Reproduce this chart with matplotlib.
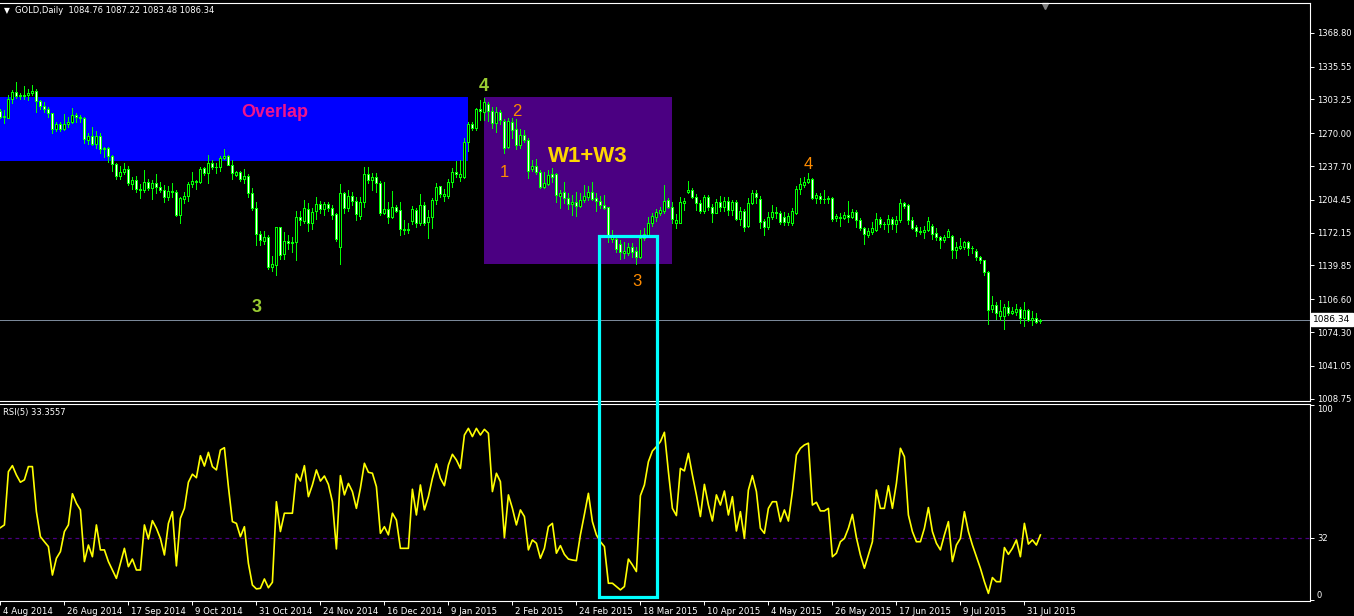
import matplotlib
matplotlib.use("Agg")
import matplotlib.pyplot as plt
import matplotlib.transforms as mtransforms
from matplotlib.patches import Rectangle
import numpy as np

# ---------------- data (GOLD, Daily) ----------------
opens = [
1291.9, 1286.3, 1285.3, 1303.4, 1310.3, 1307.0, 1306.8, 1307.3, 1309.9, 1311.3,
1302.1, 1296.5, 1293.5, 1289.6, 1274.5, 1279.1, 1274.5, 1279.1, 1281.4, 1287.6,
1285.7, 1285.4, 1263.4, 1267.0, 1259.4, 1267.3, 1254.2, 1255.8, 1247.6, 1239.4,
1227.9, 1231.9, 1234.8, 1220.4, 1224.0, 1214.8, 1214.2, 1222.0, 1215.8, 1221.4,
1216.8, 1214.2, 1206.9, 1213.5, 1212.2, 1189.6, 1205.6, 1208.3, 1220.1, 1222.7,
1222.0, 1235.5, 1231.2, 1240.4, 1237.1, 1237.1, 1245.3, 1247.6, 1239.0, 1229.2,
1231.8, 1225.3, 1227.9, 1210.8, 1196.7, 1171.1, 1164.3, 1167.5, 1138.7, 1140.6,
1177.4, 1151.1, 1163.6, 1162.0, 1162.6, 1187.2, 1183.9, 1195.7, 1182.0, 1193.1,
1200.3, 1195.7, 1200.0, 1196.1, 1190.2, 1158.3, 1210.8, 1196.7, 1208.2, 1203.3,
1188.8, 1202.0, 1229.8, 1223.9, 1226.6, 1220.7, 1191.8, 1195.1, 1187.9, 1197.0,
1194.4, 1175.7, 1174.4, 1183.9, 1194.4, 1182.0, 1199.4, 1183.0, 1187.3, 1204.3,
1217.8, 1207.9, 1208.0, 1221.7, 1232.2, 1227.0, 1227.3, 1261.1, 1279.1, 1274.9,
1293.9, 1291.3, 1298.8, 1291.9, 1279.8, 1290.6, 1282.1, 1256.5, 1281.4, 1274.2,
1258.5, 1268.3, 1263.4, 1234.8, 1237.8, 1232.2, 1217.5, 1219.8, 1230.3, 1229.6,
1208.3, 1212.2, 1206.0, 1200.7, 1202.0, 1198.8, 1204.0, 1207.6, 1212.5, 1206.0,
1203.4, 1199.4, 1197.1, 1165.5, 1166.0, 1161.0, 1152.5, 1152.5, 1157.8, 1154.5,
1148.6, 1166.6, 1170.0, 1181.4, 1187.9, 1191.9, 1193.8, 1204.3, 1197.8, 1182.0,
1182.0, 1201.1, 1211.9, 1214.2, 1207.6, 1201.1, 1193.8, 1206.9, 1197.8, 1191.9,
1202.0, 1197.8, 1203.7, 1194.5, 1202.0, 1185.3, 1193.5, 1178.7, 1201.0, 1211.5,
1205.5, 1183.5, 1177.4, 1187.3, 1192.8, 1191.8, 1187.9, 1183.0, 1182.0, 1191.8,
1214.8, 1219.4, 1222.0, 1224.6, 1206.0, 1208.6, 1205.0, 1205.0, 1206.6, 1186.3,
1188.0, 1186.9, 1189.6, 1188.0, 1192.2, 1184.3, 1176.5, 1169.9, 1173.2, 1174.5,
1185.6, 1181.1, 1180.4, 1185.6, 1180.4, 1184.3, 1201.1, 1199.4, 1184.3, 1177.4,
1174.2, 1172.5, 1175.1, 1179.1, 1171.5, 1168.3, 1165.0, 1168.3, 1169.2, 1154.8,
1157.4, 1158.4, 1163.0, 1157.4, 1154.2, 1148.3, 1145.0, 1133.8, 1097.1, 1101.0,
1090.5, 1089.9, 1099.1, 1093.5, 1093.8, 1097.1, 1087.9, 1096.1, 1086.0, 1088.2,
1084.76]

highs = [
1293.5, 1292.9, 1307.6, 1312.6, 1320.1, 1309.3, 1316.5, 1313.2, 1317.5, 1313.5,
1302.5, 1300.8, 1295.5, 1290.0, 1281.1, 1281.1, 1288.9, 1285.7, 1294.8, 1289.6,
1288.3, 1285.7, 1269.9, 1276.5, 1272.2, 1269.9, 1256.8, 1256.8, 1248.6, 1241.1,
1237.8, 1240.4, 1237.8, 1226.6, 1227.9, 1220.1, 1233.8, 1225.3, 1224.0, 1229.9,
1222.0, 1218.8, 1218.1, 1221.4, 1214.2, 1207.6, 1212.2, 1222.4, 1231.9, 1224.0,
1236.5, 1236.5, 1248.6, 1243.7, 1240.3, 1247.6, 1254.4, 1248.9, 1243.6, 1233.1,
1232.5, 1234.4, 1229.8, 1215.7, 1202.3, 1174.1, 1173.4, 1169.8, 1149.2, 1178.0,
1177.9, 1172.8, 1169.8, 1167.5, 1193.4, 1193.1, 1204.3, 1201.0, 1196.1, 1206.9,
1202.9, 1202.3, 1202.6, 1199.0, 1191.8, 1220.0, 1212.1, 1214.1, 1212.1, 1207.5,
1207.5, 1236.4, 1236.4, 1231.2, 1230.5, 1223.3, 1222.0, 1202.0, 1213.1, 1199.3,
1202.6, 1184.6, 1181.3, 1198.4, 1196.1, 1210.2, 1202.7, 1194.5, 1206.6, 1221.4,
1218.5, 1215.2, 1224.7, 1235.5, 1242.7, 1243.4, 1265.7, 1281.4, 1280.8, 1295.2,
1303.1, 1304.4, 1300.4, 1295.9, 1295.9, 1292.9, 1284.0, 1284.7, 1284.7, 1284.0,
1273.9, 1273.2, 1265.0, 1243.7, 1244.7, 1233.9, 1231.6, 1233.9, 1236.2, 1230.6,
1213.9, 1221.7, 1210.9, 1209.3, 1211.9, 1211.2, 1219.1, 1218.4, 1221.7, 1210.9,
1208.6, 1209.3, 1197.8, 1174.8, 1168.3, 1165.0, 1163.3, 1162.4, 1162.4, 1158.4,
1174.8, 1176.5, 1187.3, 1191.9, 1195.2, 1197.8, 1218.8, 1206.0, 1202.7, 1190.6,
1207.6, 1206.3, 1223.0, 1215.8, 1210.2, 1204.3, 1209.6, 1209.3, 1200.4, 1205.0,
1208.3, 1207.6, 1207.6, 1203.9, 1204.3, 1197.1, 1195.1, 1205.9, 1214.1, 1214.1,
1207.9, 1185.3, 1192.8, 1199.4, 1197.1, 1193.5, 1192.8, 1191.2, 1196.1, 1218.1,
1225.6, 1227.3, 1231.2, 1225.6, 1211.5, 1210.9, 1214.1, 1208.2, 1207.6, 1190.6,
1191.2, 1192.2, 1203.4, 1195.2, 1194.5, 1186.3, 1178.1, 1177.1, 1183.0, 1191.5,
1187.6, 1183.0, 1189.6, 1187.6, 1188.6, 1205.3, 1202.0, 1200.1, 1187.6, 1179.7,
1177.8, 1179.1, 1187.6, 1180.4, 1176.5, 1169.2, 1169.9, 1175.8, 1169.9, 1163.3,
1166.6, 1164.0, 1164.0, 1159.1, 1156.1, 1149.6, 1145.3, 1134.5, 1109.9, 1103.6,
1105.9, 1101.7, 1104.9, 1099.1, 1102.3, 1099.1, 1104.3, 1097.1, 1095.1, 1092.8,
1087.22]

lows = [
1284.7, 1280.4, 1284.5, 1300.1, 1304.4, 1303.4, 1303.4, 1302.7, 1307.6, 1290.6,
1293.5, 1291.2, 1286.3, 1270.6, 1272.5, 1272.5, 1273.2, 1276.5, 1280.4, 1281.1,
1281.1, 1260.7, 1259.4, 1258.4, 1255.2, 1250.2, 1246.3, 1242.0, 1233.2, 1225.3,
1224.7, 1229.9, 1219.1, 1214.8, 1212.5, 1206.6, 1212.5, 1214.2, 1205.6, 1210.9,
1212.5, 1202.7, 1204.3, 1207.6, 1188.6, 1182.0, 1201.7, 1203.7, 1217.4, 1215.1,
1221.4, 1228.9, 1220.7, 1234.5, 1230.5, 1233.1, 1244.3, 1238.5, 1224.6, 1227.9,
1223.3, 1221.3, 1206.9, 1194.4, 1160.0, 1160.0, 1161.0, 1136.7, 1134.7, 1130.8,
1146.5, 1146.5, 1156.4, 1153.4, 1145.2, 1179.7, 1182.0, 1174.1, 1176.1, 1185.9,
1191.8, 1189.2, 1193.1, 1185.2, 1164.2, 1141.3, 1191.1, 1193.1, 1199.3, 1184.6,
1185.6, 1197.7, 1220.7, 1214.1, 1212.5, 1189.5, 1190.5, 1181.3, 1186.5, 1192.5,
1169.8, 1170.8, 1172.1, 1180.6, 1178.0, 1179.3, 1179.7, 1166.6, 1177.1, 1200.1,
1207.6, 1203.4, 1206.0, 1217.1, 1227.3, 1223.0, 1225.7, 1252.6, 1273.2, 1273.2,
1282.7, 1282.7, 1282.1, 1274.9, 1271.6, 1278.8, 1250.3, 1255.2, 1265.0, 1254.5,
1255.8, 1261.7, 1226.3, 1233.2, 1230.3, 1215.8, 1215.8, 1219.1, 1222.4, 1202.7,
1196.8, 1201.1, 1195.5, 1189.6, 1188.9, 1197.5, 1202.0, 1204.3, 1204.3, 1193.5,
1196.8, 1195.5, 1163.3, 1163.3, 1153.5, 1146.0, 1147.0, 1150.2, 1148.6, 1141.4,
1146.9, 1165.0, 1168.9, 1178.8, 1184.0, 1189.6, 1191.9, 1196.1, 1181.4, 1177.1,
1181.4, 1194.5, 1210.9, 1206.0, 1194.5, 1191.9, 1191.9, 1194.5, 1183.0, 1191.2,
1193.8, 1193.8, 1190.0, 1189.6, 1184.6, 1179.7, 1174.1, 1177.4, 1200.4, 1201.7,
1176.4, 1169.9, 1175.4, 1185.3, 1186.3, 1180.7, 1179.7, 1179.7, 1179.7, 1190.5,
1210.2, 1217.4, 1220.7, 1205.6, 1201.7, 1201.0, 1201.0, 1201.0, 1184.0, 1183.7,
1179.1, 1185.3, 1183.0, 1186.3, 1178.1, 1174.8, 1161.4, 1168.3, 1170.9, 1173.8,
1178.1, 1175.8, 1172.5, 1175.5, 1173.2, 1182.4, 1196.1, 1180.4, 1175.5, 1169.2,
1170.6, 1167.3, 1174.0, 1166.0, 1164.7, 1156.8, 1163.3, 1167.5, 1147.6, 1146.9,
1156.1, 1156.1, 1150.2, 1152.5, 1145.3, 1142.7, 1130.5, 1082.0, 1094.5, 1087.2,
1086.3, 1077.1, 1091.2, 1091.8, 1091.2, 1083.0, 1080.0, 1085.3, 1081.3, 1083.3,
1083.48]

closes = [
1286.3, 1286.8, 1303.7, 1310.3, 1307.0, 1306.8, 1307.3, 1309.9, 1311.3, 1302.1,
1296.5, 1293.5, 1289.6, 1274.5, 1279.1, 1274.5, 1279.1, 1281.4, 1287.6, 1285.7,
1285.4, 1264.0, 1267.0, 1259.4, 1267.3, 1254.2, 1255.8, 1247.6, 1239.4, 1227.9,
1231.9, 1234.8, 1221.4, 1224.0, 1214.8, 1214.2, 1222.0, 1215.8, 1221.4, 1216.8,
1214.2, 1206.9, 1213.5, 1212.2, 1189.6, 1206.0, 1208.3, 1220.1, 1222.7, 1222.0,
1234.8, 1231.2, 1240.4, 1237.1, 1236.7, 1245.3, 1247.6, 1239.0, 1230.5, 1231.8,
1225.3, 1227.9, 1210.8, 1196.7, 1171.1, 1164.6, 1167.5, 1138.7, 1141.0, 1177.4,
1150.5, 1163.6, 1162.0, 1162.6, 1187.2, 1184.9, 1196.1, 1182.0, 1192.8, 1200.3,
1195.7, 1200.3, 1196.7, 1189.8, 1166.2, 1210.8, 1196.7, 1208.2, 1203.3, 1190.8,
1202.0, 1229.8, 1223.9, 1226.9, 1221.3, 1191.8, 1195.1, 1187.9, 1197.4, 1193.8,
1175.4, 1174.8, 1175.7, 1195.4, 1182.0, 1199.3, 1181.4, 1187.3, 1204.3, 1216.8,
1209.9, 1210.6, 1222.4, 1231.9, 1229.6, 1229.9, 1261.1, 1278.8, 1274.9, 1293.9,
1291.9, 1300.4, 1291.9, 1279.8, 1290.6, 1282.7, 1255.8, 1282.1, 1272.9, 1258.5,
1268.3, 1263.4, 1232.9, 1237.8, 1232.2, 1217.5, 1220.7, 1228.9, 1227.0, 1209.3,
1211.6, 1206.0, 1200.7, 1202.0, 1198.8, 1204.0, 1208.0, 1212.2, 1205.3, 1203.4,
1199.4, 1196.8, 1169.9, 1167.5, 1155.8, 1153.5, 1154.5, 1158.4, 1153.5, 1148.6,
1166.6, 1170.9, 1181.4, 1188.6, 1192.2, 1194.5, 1203.7, 1197.8, 1185.3, 1184.7,
1202.7, 1203.4, 1214.2, 1207.6, 1201.1, 1193.8, 1206.9, 1197.8, 1191.9, 1202.0,
1197.8, 1203.7, 1194.5, 1202.0, 1185.3, 1193.5, 1178.1, 1201.0, 1211.5, 1207.0,
1183.0, 1177.4, 1187.3, 1192.8, 1191.5, 1183.0, 1183.0, 1188.6, 1193.5, 1214.8,
1220.0, 1222.3, 1224.6, 1206.6, 1209.2, 1205.0, 1204.8, 1206.6, 1185.3, 1188.3,
1186.3, 1189.6, 1188.0, 1192.2, 1184.3, 1176.5, 1171.2, 1173.8, 1176.5, 1185.6,
1181.1, 1180.4, 1185.3, 1181.1, 1184.7, 1201.1, 1198.4, 1185.0, 1177.1, 1174.2,
1173.2, 1175.1, 1183.7, 1171.2, 1167.6, 1165.0, 1168.3, 1173.8, 1154.8, 1158.1,
1159.1, 1163.0, 1157.4, 1156.8, 1148.6, 1145.0, 1133.8, 1096.4, 1101.0, 1093.5,
1095.1, 1099.1, 1093.5, 1095.1, 1097.1, 1088.6, 1096.1, 1086.3, 1088.2, 1084.6,
1086.34]

rsi5 = [
37.1, 38.5, 65.8, 68.9, 64.1, 60.4, 61.6, 68.4, 68.4, 45.3,
32.5, 29.9, 27.4, 12.8, 21.4, 24.8, 35.1, 38.5, 54.5, 49.6,
46.2, 19.7, 28.2, 22.2, 38.5, 25.7, 25.7, 19.7, 15.4, 11.1,
18.8, 26.5, 17.1, 21.0, 15.4, 15.4, 38.5, 31.3, 40.7, 36.8,
31.6, 23.1, 39.3, 45.3, 17.5, 41.9, 47.0, 60.4, 64.5, 62.7,
74.0, 68.7, 75.7, 68.4, 66.7, 76.9, 78.1, 58.1, 40.2, 39.3,
32.5, 37.6, 18.8, 7.7, 5.7, 6.0, 10.8, 6.3, 9.1, 50.4,
35.1, 44.5, 44.5, 44.5, 64.6, 61.0, 68.9, 53.0, 59.0, 66.7,
61.0, 63.6, 59.3, 50.4, 26.2, 63.8, 53.9, 59.8, 55.6, 47.0,
57.3, 70.1, 65.5, 65.0, 58.1, 34.2, 37.6, 33.4, 44.5, 41.0,
26.5, 26.5, 26.5, 56.8, 43.6, 59.0, 46.2, 53.0, 62.4, 69.8,
62.4, 58.6, 69.2, 74.7, 71.8, 67.5, 84.6, 88.0, 83.8, 88.0,
84.6, 87.5, 85.5, 55.6, 65.0, 60.7, 32.0, 53.9, 47.0, 38.5,
46.2, 42.8, 25.7, 30.8, 29.1, 21.4, 26.5, 37.6, 39.3, 24.0,
27.9, 23.4, 21.0, 20.5, 20.2, 33.4, 43.9, 54.7, 40.2, 33.4,
29.9, 27.4, 8.6, 8.6, 6.9, 5.2, 6.9, 21.0, 18.0, 14.6,
53.5, 59.0, 70.9, 76.4, 78.6, 81.2, 86.0, 65.8, 47.0, 43.3,
67.5, 66.2, 75.2, 64.1, 53.9, 42.8, 59.3, 48.7, 40.5, 53.9,
48.7, 55.9, 43.6, 53.0, 35.4, 45.3, 31.6, 56.4, 63.8, 55.6,
36.8, 34.2, 47.0, 50.4, 50.4, 40.2, 46.2, 40.5, 55.6, 74.4,
77.8, 79.5, 80.4, 48.7, 50.1, 45.7, 45.7, 47.0, 22.2, 24.0,
29.9, 31.6, 36.8, 43.9, 32.0, 23.1, 16.3, 23.1, 29.9, 56.4,
47.0, 47.0, 58.6, 47.0, 59.8, 77.8, 73.5, 43.6, 35.1, 29.9,
29.9, 36.8, 47.4, 35.1, 29.1, 25.7, 33.4, 40.2, 19.7, 28.2,
31.6, 45.3, 35.1, 28.2, 22.2, 16.3, 9.4, 3.4, 11.5, 9.4,
9.4, 26.9, 23.4, 26.5, 30.8, 22.2, 39.3, 28.7, 30.8, 28.2,
33.3557]

date_tick_bars = [0, 16, 32, 48, 64, 80, 96, 112, 128, 144, 160, 176, 192, 208, 224, 240, 256]
date_tick_labels = ["4 Aug 2014", "26 Aug 2014", "17 Sep 2014", "9 Oct 2014", "31 Oct 2014",
                    "24 Nov 2014", "16 Dec 2014", "9 Jan 2015", "2 Feb 2015", "24 Feb 2015",
                    "18 Mar 2015", "10 Apr 2015", "4 May 2015", "26 May 2015", "17 Jun 2015",
                    "9 Jul 2015", "31 Jul 2015"]
price_ticks = [1368.80, 1335.55, 1303.25, 1270.00, 1237.70, 1204.45, 1172.15,
               1139.85, 1106.60, 1074.30, 1041.05, 1008.75]
rsi_level = 32
header = "GOLD,Daily  1084.76 1087.22 1083.48 1086.34"

# zones (bar index / price)
overlap_zone = (-5.0, 116.8, 1242.7, 1305.7)
w13_zone = (120.9, 167.9, 1141.6, 1305.7)
cyan_zone = (149.7, 164.2, 1168.9, 1.6)   # x0, x1, price top, rsi bottom

assert len(opens) == len(highs) == len(lows) == len(closes) == len(rsi5)

# ---------------- figure ----------------
W, H, DPI = 1354, 616, 100
BG = "black"
GREEN = "#00FF00"
PX = 72.0 / DPI   # one pixel in points
fig = plt.figure(figsize=(W / DPI, H / DPI), dpi=DPI, facecolor=BG)


def fy(px):
    return 1.0 - px / H


RIGHT = 1310
ax = fig.add_axes([0, fy(401), RIGHT / W, (401 - 3) / H], facecolor=BG)
axr = fig.add_axes([0, fy(601), RIGHT / W, (601 - 404) / H], facecolor=BG)

n = len(closes)
idx = np.arange(n)
o = np.array(opens); hh = np.array(highs); ll = np.array(lows); c = np.array(closes)

x0, x1, lo, hi = overlap_zone
ax.add_patch(Rectangle((x0, lo), x1 - x0, hi - lo, fc="#0000FF", ec="none", zorder=0))
x0, x1, lo, hi = w13_zone
ax.add_patch(Rectangle((x0, lo), x1 - x0, hi - lo, fc="#4B0082", ec="none", zorder=0))

ax.axhline(closes[-1], color="#7A8899", lw=PX, zorder=1)

up = c >= o
ax.vlines(idx, np.minimum(ll, np.minimum(o, c)), np.maximum(hh, np.maximum(o, c)),
          color=GREEN, lw=PX, zorder=2, antialiased=False)
bottom = np.minimum(o, c)
height = np.maximum(np.abs(c - o), 0.3)
ax.bar(idx[up], height[up], bottom=bottom[up], width=0.5, color="black",
       edgecolor=GREEN, linewidth=PX, zorder=3, antialiased=False)
ax.bar(idx[~up], height[~up], bottom=bottom[~up], width=0.5, color="white",
       edgecolor=GREEN, linewidth=PX, zorder=3, antialiased=False)

xl = (-0.1, 327.4)
ax.set_xlim(*xl)
ax.set_ylim(1006.5, 1398.1)
axr.set_xlim(*xl)
axr.set_ylim(-0.5, 100.5)

# RSI
axr.axhline(rsi_level, color="#4B0082", lw=0.9, ls=(0, (3, 3)), zorder=1)
axr.plot(idx, rsi5, color="#FFFF00", lw=1.2, zorder=2)

for a in (ax, axr):
    a.spines["left"].set_visible(False)
    for s in ("top", "right", "bottom"):
        a.spines[s].set_color("white")
        a.spines[s].set_linewidth(0.8)

ax.set_xticks([])
ax.yaxis.tick_right()
ax.set_yticks(price_ticks)
ax.set_yticklabels([f"{v:.2f}" for v in price_ticks])
ax.tick_params(axis="y", colors="white", labelsize=6, length=3, width=0.7, pad=2)

axr.yaxis.tick_right()
axr.set_yticks([0, rsi_level, 100])
axr.set_yticklabels(["0", str(rsi_level), "100"])
axr.tick_params(axis="y", colors="white", labelsize=6, length=3, width=0.7, pad=2)
ylabs = axr.get_yticklabels()
ylabs[0].set_va("bottom")
ylabs[2].set_va("top")

axr.set_xticks(date_tick_bars)
axr.set_xticklabels(date_tick_labels, ha="left")
axr.tick_params(axis="x", colors="white", labelsize=6.2, length=3, width=0.7, pad=1.5)
off = mtransforms.ScaledTranslation(2 / 72, 0, fig.dpi_scale_trans)
for lab in axr.get_xticklabels():
    lab.set_transform(lab.get_transform() + off)

# header texts
fig.text(4 / W, fy(10.5), "\u25bc", color="white", fontsize=5.5, va="center", ha="left")
fig.text(15 / W, fy(10.5), header, color="white", fontsize=6, va="center", ha="left")
fig.text(3 / W, fy(412), "RSI(5) 33.3557", color="white", fontsize=6, va="center", ha="left")

# price tag
bt = mtransforms.blended_transform_factory(ax.transAxes, ax.transData)
ax.text(1.0025, closes[-1], f"{closes[-1]:.2f}", transform=bt, fontsize=6.5, color="black",
        va="center", ha="left",
        bbox=dict(boxstyle="square,pad=0.22", fc="white", ec="white"), zorder=5)

# chart-shift marker
bt2 = mtransforms.blended_transform_factory(ax.transData, ax.transAxes)
ax.plot([261.2], [0.993], marker="v", ms=5, color="#808080", transform=bt2, clip_on=False)

# annotations
ax.text(68.6, 1289.9, "Overlap", color="#F0148C", fontsize=13, fontweight="bold",
        family="Liberation Sans", ha="center", va="center", zorder=4)
ax.text(146.8, 1246.9, "W1+W3", color="#FFD700", fontsize=16, fontweight="bold",
        family="Liberation Sans", ha="center", va="center", zorder=4)
ax.text(120.9, 1315.8, "4", color="#9ACD32", fontsize=13, fontweight="bold",
        family="Liberation Sans", ha="center", va="center", zorder=4)
ax.text(64.0, 1098.2, "3", color="#9ACD32", fontsize=13, fontweight="bold",
        family="Liberation Sans", ha="center", va="center", zorder=4)
for (bx, py, t) in [(129.2, 1291.7, "2"), (126.0, 1231.6, "1"),
                    (159.1, 1124.4, "3"), (201.95, 1239.5, "4")]:
    ax.text(bx, py, t, color="#FF8C00", fontsize=12, family="Liberation Sans",
            ha="center", va="center", zorder=4)

# cyan box spanning both panes
cx0, cx1, ctop, cbot = cyan_zone
inv = fig.transFigure.inverted()
p_tl = inv.transform(ax.transData.transform((cx0, ctop)))
p_br = inv.transform(axr.transData.transform((cx1, cbot)))
fig.add_artist(Rectangle((p_tl[0], p_br[1]), p_br[0] - p_tl[0], p_tl[1] - p_br[1],
                         transform=fig.transFigure, fill=False, ec="#00FFFF", lw=2.3, zorder=10))

fig.savefig("out.png", dpi=DPI, facecolor=BG)
